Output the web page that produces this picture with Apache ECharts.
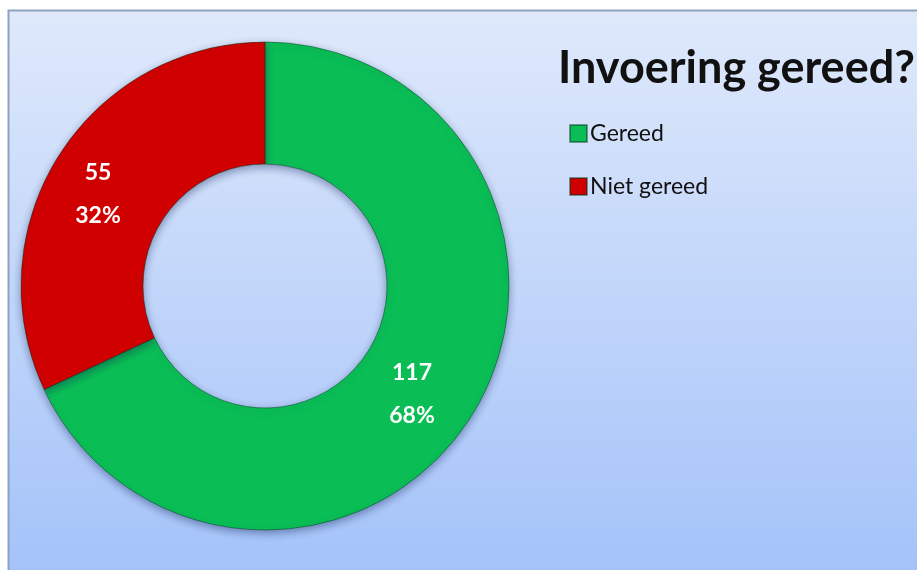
<!DOCTYPE html>
<html>
<head>
<meta charset="utf-8">
<script src="https://cdn.jsdelivr.net/npm/echarts@6/dist/echarts.min.js"></script>
<style>
  html, body { margin: 0; padding: 0; background: #fff; }
  #chart { width: 917px; height: 570px; }
</style>
</head>
<body>
<div id="chart"></div>
<script>
var categories = ['Gereed', 'Niet gereed'];
var values = [117, 55];
var colors = ['#0abd55', '#d10000'];
var titleText = 'Invoering gereed?';

var chart = echarts.init(document.getElementById('chart'));

var total = values.reduce(function (a, b) { return a + b; }, 0);

var pieData = categories.map(function (name, i) {
    return {
        name: name,
        value: values[i],
        itemStyle: { color: colors[i] }
    };
});

var option = {
    backgroundColor: '#ffffff',
    animation: false,
    graphic: [{
        type: 'rect',
        z: -10,
        shape: { x: 8.5, y: 10.5, width: 920, height: 570 },
        style: {
            fill: new echarts.graphic.LinearGradient(0, 0, 0, 1, [
                { offset: 0, color: '#dfe9fb' },
                { offset: 1, color: '#a3c2f9' }
            ]),
            stroke: '#8ea2c0',
            lineWidth: 2
        }
    }],
    title: {
        text: titleText,
        left: 553,
        top: 41,
        textStyle: {
            fontFamily: 'Lato',
            fontWeight: 'bold',
            fontSize: 45,
            color: '#111111'
        }
    },
    legend: {
        orient: 'vertical',
        left: 564,
        top: 117,
        itemWidth: 17,
        itemHeight: 17,
        itemGap: 30,
        icon: 'rect',
        textStyle: {
            fontFamily: 'Lato',
            fontSize: 23,
            color: '#111111',
            padding: [0, 0, 0, -2]
        },
        data: categories
    },
    series: [{
        type: 'pie',
        center: [265, 286],
        radius: [122, 244],
        startAngle: 90,
        clockwise: true,
        itemStyle: {
            borderColor: 'rgba(0,50,20,0.45)',
            borderWidth: 1,
            shadowBlur: 8,
            shadowOffsetY: 3,
            shadowColor: 'rgba(20,40,90,0.45)'
        },
        label: {
            show: true,
            position: 'inside',
            formatter: function (p) {
                return p.value + '\n' + Math.round(p.value / total * 100) + '%';
            },
            fontFamily: 'Lato',
            fontWeight: 'bold',
            fontSize: 23,
            lineHeight: 43,
            color: '#ffffff'
        },
        labelLayout: { dx: -10, dy: 8 },
        labelLine: { show: false },
        emphasis: { disabled: true },
        data: pieData
    }]
};

chart.setOption(option);
</script>
</body>
</html>
